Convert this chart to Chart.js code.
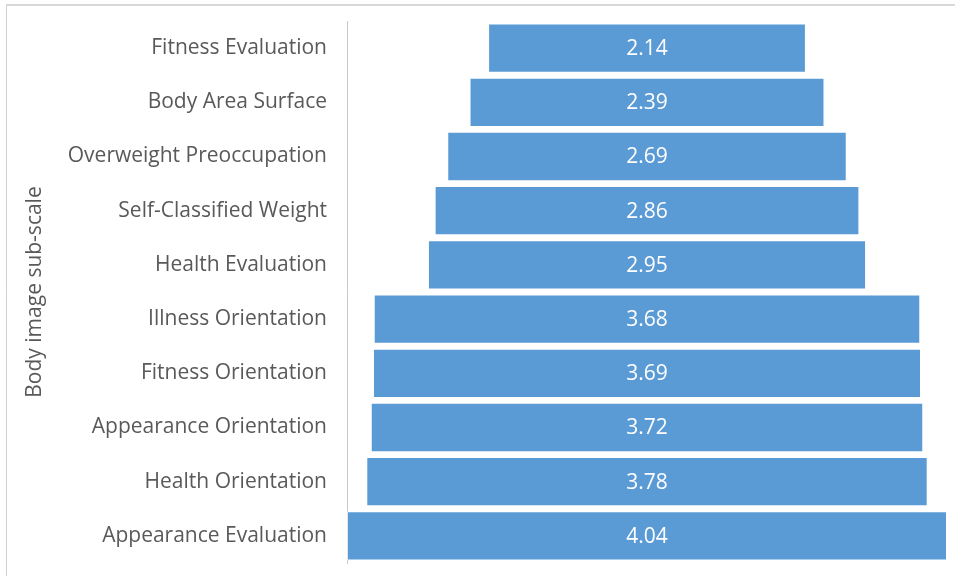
<!DOCTYPE html>
<html>
<head>
<meta charset="utf-8">
<script src="https://cdn.jsdelivr.net/npm/chart.js@4/dist/chart.umd.min.js"></script>
<style>
    html, body { margin: 0; padding: 0; background: #fff; }
    #wrap { width: 955px; height: 576px; position: relative; }
</style>
</head>
<body>
<div id="wrap"><canvas id="funnelChart"></canvas></div>
<script>
// ===== DATA =====
const subScales = [
    'Fitness Evaluation',
    'Body Area Surface',
    'Overweight Preoccupation',
    'Self-Classified Weight',
    'Health Evaluation',
    'Illness Orientation',
    'Fitness Orientation',
    'Appearance Orientation',
    'Health Orientation',
    'Appearance Evaluation'
];
const meanScores = [2.14, 2.39, 2.69, 2.86, 2.95, 3.68, 3.69, 3.72, 3.78, 4.04];
const axisTitle = 'Body image sub-scale';

// funnel: each bar is centred on zero
const funnelRanges = meanScores.map(v => [-v / 2, v / 2]);
const maxHalf = Math.max(...meanScores) / 2;

const FONT_SIZE = 21;

// ===== PLUGINS =====
const framePlugin = {
    id: 'frame',
    beforeDraw(chart) {
        const ctx = chart.ctx;
        ctx.save();
        ctx.strokeStyle = '#d9d9d9';
        ctx.lineWidth = 2;
        ctx.beginPath();
        ctx.moveTo(6, 5);
        ctx.lineTo(chart.width, 5);
        ctx.stroke();
        ctx.lineWidth = 1;
        ctx.strokeStyle = '#d0d0d0';
        ctx.beginPath();
        ctx.moveTo(6.5, 5);
        ctx.lineTo(6.5, chart.height);
        ctx.stroke();
        ctx.restore();
    }
};

const valueLabels = {
    id: 'valueLabels',
    afterDatasetsDraw(chart) {
        const ctx = chart.ctx;
        const meta = chart.getDatasetMeta(0);
        ctx.save();
        ctx.fillStyle = '#ffffff';
        ctx.font = FONT_SIZE + 'px "Open Sans"';
        ctx.textAlign = 'center';
        ctx.textBaseline = 'middle';
        meta.data.forEach((bar, i) => {
            const { x, base, y } = bar.getProps(['x', 'base', 'y'], true);
            ctx.fillText(meanScores[i].toFixed(2), (x + base) / 2, y + 1);
        });
        ctx.restore();
    }
};

// ===== CHART =====
new Chart(document.getElementById('funnelChart'), {
    type: 'bar',
    data: {
        labels: subScales,
        datasets: [{
            data: funnelRanges,
            backgroundColor: '#5b9bd5',
            borderColor: 'rgba(255,255,255,0.55)',
            borderWidth: 1,
            borderSkipped: false,
            barPercentage: 0.91,
            categoryPercentage: 1.0
        }]
    },
    options: {
        indexAxis: 'y',
        responsive: true,
        maintainAspectRatio: false,
        animation: false,
        layout: { padding: { top: 21, bottom: 13, right: 8, left: 0 } },
        plugins: {
            legend: { display: false },
            tooltip: { enabled: false }
        },
        scales: {
            x: {
                display: false,
                min: -maxHalf,
                max: maxHalf
            },
            y: {
                afterFit(scale) { scale.width = 347; },
                // tick marks hidden; their length only spaces the labels from the axis
                grid: { display: false, drawTicks: true, tickLength: 20 },
                border: { display: true, color: '#c8c8c8', width: 1, dash: [2, 2] },
                ticks: {
                    color: '#595959',
                    font: { family: 'Open Sans', size: FONT_SIZE },
                    padding: 0
                },
                title: {
                    display: true,
                    text: axisTitle,
                    color: '#595959',
                    font: { family: 'Open Sans', size: FONT_SIZE },
                    padding: { top: 22, bottom: 0 }
                }
            }
        }
    },
    plugins: [framePlugin, valueLabels]
});
</script>
</body>
</html>
